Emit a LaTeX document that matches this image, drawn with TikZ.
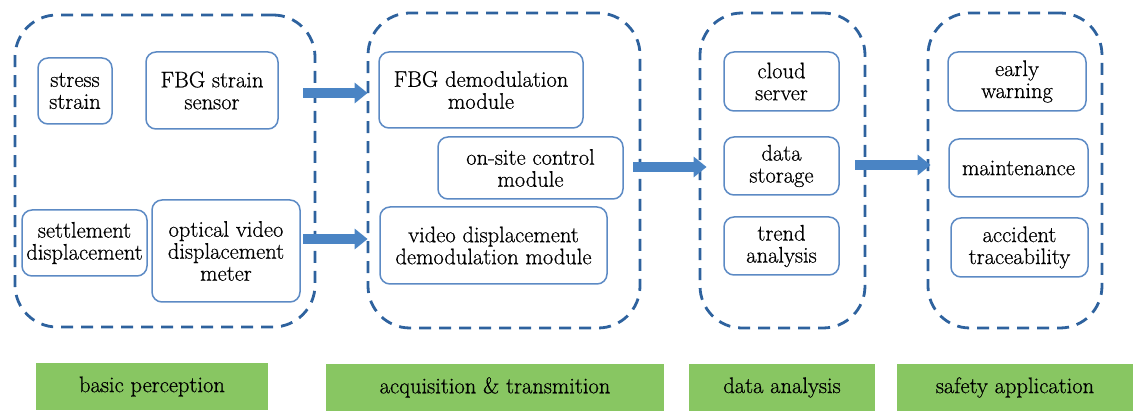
\documentclass[tikz,border=0pt]{standalone}
\usepackage{fontspec}
\newfontfamily\labelfont{Latin Modern Roman}[FakeBold=0.6]
\usetikzlibrary{arrows.meta}
\definecolor{groupblue}{RGB}{46,98,158}
\definecolor{boxblue}{RGB}{92,138,196}
\definecolor{arrowblue}{RGB}{74,132,196}
\definecolor{stagegreen}{RGB}{136,198,98}
\tikzset{
  group/.style={draw=groupblue, line width=2.8pt, dash pattern=on 12pt off 8pt,
    rounded corners=42pt, inner sep=0pt},
  item/.style={draw=boxblue, line width=1.5pt, rounded corners=10pt, align=center,
    inner sep=0pt, font=\labelfont\fontsize{22.5}{22}\selectfont},
  stage/.style={fill=stagegreen, inner sep=0pt, minimum height=47pt,
    font=\labelfont\fontsize{22.5}{22}\selectfont},
  flow/.style={draw=arrowblue, line width=10pt,
    -{Triangle[length=13pt,width=20pt]}}
}
\begin{document}
\begin{tikzpicture}[x=1pt,y=-1pt]
\useasboundingbox (0,0) rectangle (1133,411);

% dashed stage groups
\node[group, minimum width=300pt, minimum height=312pt] (g1) at (165,171) {};
\node[group, minimum width=272pt, minimum height=315pt] (g2) at (504,170.5) {};
\node[group, minimum width=165pt, minimum height=315pt] (g3) at (782.5,170.5) {};
\node[group, minimum width=174pt, minimum height=315pt] (g4) at (1015,170.5) {};

% basic perception
\node[item, minimum width=74pt, minimum height=66pt] (stress) at (75,91) {stress\\strain};
\node[item, minimum width=132pt, minimum height=77pt] (fbgs) at (212,90.5) {FBG strain\\sensor};
\node[item, minimum width=125pt, minimum height=66pt] (settle) at (84.5,243) {settlement\\displacement};
\node[item, minimum width=148pt, minimum height=102pt] (optical) at (226,251) {optical video\\displacement\\meter};

% acquisition and transmission
\node[item, minimum width=204pt, minimum height=76pt] (fbgd) at (481,90) {FBG demodulation\\module};
\node[item, minimum width=185pt, minimum height=62pt] (onsite) at (530.5,168) {on-site control\\module};
\node[item, minimum width=227pt, minimum height=77pt] (videod) at (493.5,245.5) {video displacement\\demodulation module};

% data analysis
\node[item, minimum width=115pt, minimum height=59pt] (cloud) at (781.5,81.5) {cloud\\server};
\node[item, minimum width=115pt, minimum height=58pt] (storage) at (781.5,166) {data\\storage};
\node[item, minimum width=115pt, minimum height=58pt] (trend) at (781.5,246) {trend\\analysis};

% safety application
\node[item, minimum width=138pt, minimum height=59pt] (warn) at (1017,81.5) {early\\warning};
\node[item, minimum width=139pt, minimum height=58pt] (maint) at (1018.5,168) {maintenance};
\node[item, minimum width=137pt, minimum height=59pt] (trace) at (1019.5,247.5) {accident\\traceability};

% flow arrows between stages
\coordinate (s1) at (303,93);
\coordinate (s2) at (303,239);
\coordinate (s3) at (633,167);
\coordinate (s4) at (855,165);
\draw[flow] (s1) -- ([xshift=1pt]g2.west |- s1);
\draw[flow] (s2) -- ([xshift=1pt]g2.west |- s2);
\draw[flow] (s3) -- ([xshift=8pt]g3.west |- s3);
\draw[flow] (s4) -- ([xshift=4pt]g4.west |- s4);

% stage labels
\node[stage, minimum width=232pt] (l1) at (152,386.5) {basic perception};
\node[stage, minimum width=338pt] (l2) at (495,387.5) {acquisition \& transmition};
\node[stage, minimum width=186pt] (l3) at (782,387.5) {data analysis};
\node[stage, minimum width=236pt] (l4) at (1015,387.5) {safety application};
\end{tikzpicture}
\end{document}
